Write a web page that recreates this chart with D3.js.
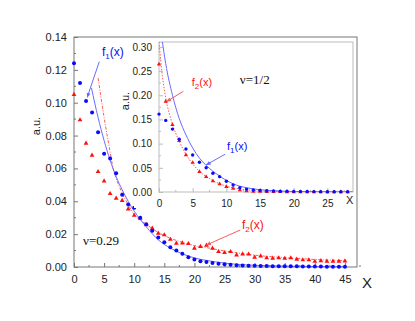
<!DOCTYPE html>
<html>
<head>
<meta charset="utf-8">
<script src="https://cdn.jsdelivr.net/npm/d3@7"></script>
<style>
  body { margin: 0; background: #fff; }
  text { font-family: Arial, "Liberation Sans", sans-serif; }
  .serif { font-family: "Liberation Serif", "Times New Roman", serif; }
</style>
</head>
<body>
<svg id="Viz" width="415" height="321"></svg>
<script>
// ---- data ----
// main panel (nu = 0.29), x = 0..45
var mainX = d3.range(0, 46);
var mainBlue = [0.124, 0.112, 0.101, 0.094, 0.082, 0.069, 0.066, 0.057, 0.044, 0.038,
  0.036, 0.030, 0.026, 0.022, 0.018, 0.015, 0.012, 0.010, 0.008, 0.006,
  0.0045, 0.0035, 0.003, 0.0025, 0.002, 0.0016, 0.0013, 0.0011, 0.0009, 0.0008,
  0.0007, 0.0006, 0.0006, 0.0005, 0.0005, 0.0004, 0.0004, 0.0004, 0.0003, 0.0003,
  0.0003, 0.0003, 0.0002, 0.0002, 0.0002, 0.0002];
var mainRed = [0.105, 0.0895, 0.0753, 0.068, 0.058, 0.0523, 0.0446, 0.0418, 0.0404, 0.0353,
  0.0314, 0.0296, 0.0256, 0.0235, 0.0205, 0.0195, 0.0168, 0.0144, 0.0146, 0.0142,
  0.0114, 0.0124, 0.0132, 0.0114, 0.0093, 0.0087, 0.0093, 0.0073, 0.0079, 0.0078,
  0.0059, 0.0067, 0.0055, 0.0053, 0.0055, 0.0052, 0.0055, 0.0047, 0.0043, 0.0043,
  0.0034, 0.0038, 0.0035, 0.0035, 0.0035, 0.0036];
// curves f1, f2 in main panel [x, y]
var mainF1 = [[2.9, 0.109], [4, 0.091], [5, 0.077], [6, 0.065], [7, 0.055], [8, 0.047],
  [9, 0.040], [10, 0.034], [12, 0.0245], [14, 0.0165], [16, 0.0115], [18, 0.008],
  [20, 0.0055], [22, 0.004], [25, 0.0024], [28, 0.0014], [32, 0.0008], [36, 0.0005],
  [40, 0.0003], [45, 0.0002]];
var mainF2 = [[4, 0.115], [5, 0.091], [6, 0.070], [6.5, 0.060], [7, 0.054], [8, 0.045],
  [9, 0.038], [10, 0.032], [12, 0.026], [14, 0.021], [16, 0.0175], [18, 0.015],
  [20, 0.013], [22, 0.0118], [25, 0.0098], [30, 0.0072], [35, 0.0057], [40, 0.0046],
  [45, 0.0038]];
var mainXTicks = [0, 5, 10, 15, 20, 25, 30, 35, 40, 45];
var mainYTicks = [0, 0.02, 0.04, 0.06, 0.08, 0.10, 0.12, 0.14];

// inset (nu = 1/2), x = 0..28
var insetX = d3.range(0, 29);
var insetBlue = [0.161, 0.148, 0.130, 0.109, 0.089, 0.0766, 0.0614, 0.050, 0.0386, 0.0317,
  0.0222, 0.0145, 0.009, 0.006, 0.004, 0.003, 0.0025, 0.002, 0.0017, 0.0014,
  0.0012, 0.001, 0.0009, 0.0008, 0.0007, 0.0006, 0.0005, 0.0005, 0.0004];
var insetRed = [0.264, 0.187, 0.139, 0.106, 0.0766, 0.0607, 0.042, 0.0317, 0.0228, 0.0166,
  0.011, 0.0072, 0.004, 0.0022, 0.0012, 0.0008, 0.0005, 0.0004, 0.0003, 0.0002,
  0.0002, 0.0001, 0.0001, 0.0001, 0.0001, 0.0001, 0.0001, 0.0001, 0.0001];
var insetF1 = [[0.4, 0.32], [1, 0.265], [2, 0.200], [3, 0.152], [4, 0.118], [5, 0.091],
  [6, 0.070], [7, 0.055], [8, 0.043], [9, 0.033], [10, 0.024], [11, 0.017], [12, 0.012],
  [14, 0.0065], [16, 0.0035], [18, 0.002], [20, 0.001], [24, 0.0004], [28.8, 0.0001]];
var insetF2 = [[0, 0.31], [0.5, 0.24], [1, 0.195], [2, 0.140], [3, 0.105], [4, 0.078],
  [5, 0.058], [6, 0.043], [7, 0.032], [8, 0.0235], [9, 0.017], [10, 0.012], [12, 0.006],
  [14, 0.003], [17, 0.0012], [20, 0.0005], [28.8, 0.0001]];
var insetXTicks = [0, 5, 10, 15, 20, 25];
var insetYTicks = [0, 0.05, 0.10, 0.15, 0.20, 0.25, 0.30];

var BLUE = "#0a0aff", RED = "#ff1010", BLUEL = "#6a6aff", REDL = "#ff5a5a";

var svg = d3.select("#Viz");

svg.append("defs").selectAll("marker")
  .data([["arB", BLUEL], ["arR", REDL]])
  .enter().append("marker")
  .attr("id", function(d) { return d[0]; })
  .attr("viewBox", "0 0 10 10").attr("refX", 9).attr("refY", 5)
  .attr("markerWidth", 5).attr("markerHeight", 5).attr("orient", "auto")
  .append("path").attr("d", "M0,1L10,5L0,9Z").attr("fill", function(d) { return d[1]; });

// ---- main panel ----
var x = d3.scaleLinear().domain([0, 47]).range([74, 357]);
var y = d3.scaleLinear().domain([0, 0.14]).range([267, 37]);

function frame(g, xs, ys, xt, yt, xMinor, yMinor, col, fs, fmtY) {
  var x0 = xs.range()[0], x1 = xs.range()[1], y0 = ys.range()[0], y1 = ys.range()[1];
  g.append("rect").attr("x", x0).attr("y", y1).attr("width", x1 - x0).attr("height", y0 - y1)
    .attr("fill", "none").attr("stroke", col).attr("stroke-width", 1);
  var ax = g.append("g").attr("transform", "translate(0," + y0 + ")")
    .call(d3.axisBottom(xs).tickValues(xt).tickSizeInner(-4).tickSizeOuter(0).tickPadding(8)
      .tickFormat(d3.format("d")));
  var ay = g.append("g").attr("transform", "translate(" + x0 + ",0)")
    .call(d3.axisLeft(ys).tickValues(yt).tickSizeInner(-4).tickSizeOuter(0).tickPadding(7)
      .tickFormat(fmtY));
  [ax, ay].forEach(function(a) {
    a.select(".domain").remove();
    a.selectAll("line").attr("stroke", col);
    a.selectAll("text").attr("fill", "#222").attr("font-size", fs)
      .style("font-family", "Arial, 'Liberation Sans', sans-serif");
  });
  g.selectAll(".mx").data(xMinor).enter().append("line")
    .attr("x1", function(d) { return xs(d); }).attr("x2", function(d) { return xs(d); })
    .attr("y1", y0).attr("y2", y0 - 2).attr("stroke", col);
  g.selectAll(".my").data(yMinor).enter().append("line")
    .attr("y1", function(d) { return ys(d); }).attr("y2", function(d) { return ys(d); })
    .attr("x1", x0).attr("x2", x0 + 2).attr("stroke", col);
}

var gm = svg.append("g");
frame(gm, x, y, mainXTicks, mainYTicks,
  mainXTicks.map(function(d) { return d + 2.5; }),
  mainYTicks.slice(0, -1).map(function(d) { return d + 0.01; }),
  "#777", "11px", d3.format(".2f"));

var lineM = d3.line().x(function(d) { return x(d[0]); }).y(function(d) { return y(d[1]); })
  .curve(d3.curveMonotoneX);

gm.append("path").attr("d", lineM(mainF2)).attr("fill", "none")
  .attr("stroke", REDL).attr("stroke-width", 1).attr("stroke-dasharray", "3,1.5,1,1.5");
gm.append("path").attr("d", lineM(mainF1)).attr("fill", "none")
  .attr("stroke", BLUEL).attr("stroke-width", 1);

var tri = d3.symbol().type(d3.symbolTriangle).size(10);
var triS = d3.symbol().type(d3.symbolTriangle).size(8);

gm.selectAll(".mr").data(mainX).enter().append("path")
  .attr("d", tri)
  .attr("transform", function(d, i) { return "translate(" + x(d) + "," + y(mainRed[i]) + ")"; })
  .attr("fill", RED);
gm.selectAll(".mb").data(mainX).enter().append("circle")
  .attr("cx", function(d) { return x(d); })
  .attr("cy", function(d, i) { return y(mainBlue[i]); })
  .attr("r", 2).attr("fill", BLUE);

svg.append("text").attr("x", 362).attr("y", 288).attr("font-size", "15px")
  .attr("fill", "#222").text("X");
svg.append("text").attr("transform", "translate(40,126) rotate(-90)")
  .attr("text-anchor", "middle").attr("font-size", "11px").attr("fill", "#222").text("a.u.");
svg.append("text").attr("class", "serif").attr("x", x(1.5)).attr("y", y(0.0134))
  .attr("font-size", "13px").attr("fill", "#111").text("ν=0.29");

function flabel(g, px, py, sub, col, fs, sfs) {
  var t = g.append("text").attr("x", px).attr("y", py).attr("fill", col).attr("font-size", fs);
  t.append("tspan").text("f");
  t.append("tspan").attr("dy", 3).attr("font-size", sfs).text(sub);
  t.append("tspan").attr("dy", -3).text("(x)");
}
function pointer(g, a, b, m, col) {
  g.append("line").attr("x1", a[0]).attr("y1", a[1]).attr("x2", b[0]).attr("y2", b[1])
    .attr("stroke", col).attr("stroke-width", 1).attr("marker-end", "url(#" + m + ")");
}

flabel(gm, x(4.65), y(0.1284), "1", BLUE, "12px", "8px");
pointer(gm, [x(4.2), y(0.125)], [x(2.2), y(0.1033)], "arB", BLUEL);
flabel(gm, x(27.9), y(0.0231), "2", RED, "12px", "8px");
pointer(gm, [x(27.6), y(0.0225)], [x(22.0), y(0.0134)], "arR", REDL);

// ---- inset ----
var xi = d3.scaleLinear().domain([0, 28.8]).range([159, 353]);
var yi = d3.scaleLinear().domain([0, 0.31]).range([192, 42]);

var gi = svg.append("g");
gi.append("rect").attr("x", 134).attr("y", 38).attr("width", 222).attr("height", 170)
  .attr("fill", "#fff");
gi.append("rect").attr("x", 118).attr("y", 80).attr("width", 18).attr("height", 40)
  .attr("fill", "#fff");
frame(gi, xi, yi, insetXTicks, insetYTicks,
  insetXTicks.map(function(d) { return d + 2.5; }),
  insetYTicks.slice(0, -1).map(function(d) { return d + 0.025; }),
  "#bbb", "10px", d3.format(".2f"));

var clip = svg.append("clipPath").attr("id", "ci").append("rect")
  .attr("x", 159).attr("y", 42).attr("width", 194).attr("height", 150);

var lineI = d3.line().x(function(d) { return xi(d[0]); }).y(function(d) { return yi(d[1]); })
  .curve(d3.curveMonotoneX);
var gc = gi.append("g").attr("clip-path", "url(#ci)");
gc.append("path").attr("d", lineI(insetF2)).attr("fill", "none")
  .attr("stroke", REDL).attr("stroke-width", 1).attr("stroke-dasharray", "1.5,1.5");
gc.append("path").attr("d", lineI(insetF1)).attr("fill", "none")
  .attr("stroke", BLUEL).attr("stroke-width", 1);

gi.selectAll(".ir").data(insetX).enter().append("path")
  .attr("d", triS)
  .attr("transform", function(d, i) { return "translate(" + xi(d) + "," + yi(insetRed[i]) + ")"; })
  .attr("fill", RED);
gi.selectAll(".ib").data(insetX).enter().append("circle")
  .attr("cx", function(d) { return xi(d); })
  .attr("cy", function(d, i) { return yi(insetBlue[i]); })
  .attr("r", 1.7).attr("fill", BLUE);

gi.append("text").attr("x", 346).attr("y", 204).attr("font-size", "11px")
  .attr("fill", "#222").text("X");
gi.append("text").attr("transform", "translate(129,101) rotate(-90)")
  .attr("text-anchor", "middle").attr("font-size", "11px").attr("fill", "#222").text("a.u.");
gi.append("text").attr("class", "serif").attr("x", xi(12.0)).attr("y", yi(0.223))
  .attr("font-size", "13px").attr("fill", "#111").text("ν=1/2");

flabel(gi, xi(4.87), yi(0.219), "2", RED, "11px", "8px");
pointer(gi, [xi(3.6), yi(0.208)], [xi(1.14), yi(0.187)], "arR", REDL);
flabel(gi, xi(10.1), yi(0.087), "1", BLUE, "11px", "8px");
pointer(gi, [xi(9.8), yi(0.078)], [xi(7.0), yi(0.056)], "arB", BLUEL);
</script>
</body>
</html>
